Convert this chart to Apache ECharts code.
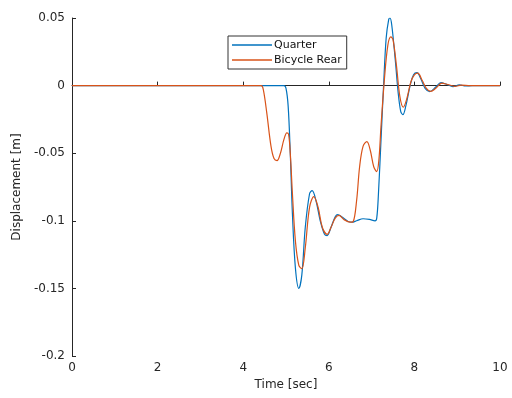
<!DOCTYPE html>
<html>
<head>
<meta charset="utf-8">
<script src="https://cdn.jsdelivr.net/npm/echarts@6/dist/echarts.min.js"></script>
<style>html,body{margin:0;padding:0;background:#fff}#c{width:512px;height:398px}</style>
</head>
<body>
<div id="c"></div>
<script>
var quarterT = [0,4.95,5.0,5.05,5.1,5.15,5.22,5.3,5.37,5.45,5.55,5.61,5.7,5.8,5.9,5.96,6.05,6.15,6.21,6.3,6.45,6.54,6.65,6.8,6.95,7.08,7.12,7.16,7.22,7.28,7.34,7.4,7.43,7.47,7.55,7.62,7.68,7.73,7.8,7.9,7.98,8.06,8.15,8.25,8.36,8.5,8.62,8.75,8.9,9.05,9.2,9.35,10];
var quarterV = [0,0,-0.002,-0.015,-0.05,-0.095,-0.135,-0.150,-0.14,-0.105,-0.08,-0.0777,-0.085,-0.1,-0.11,-0.111,-0.105,-0.097,-0.0954,-0.097,-0.1005,-0.101,-0.1,-0.0985,-0.099,-0.1,-0.098,-0.08,-0.04,0,0.035,0.049,0.050,0.045,0.02,-0.005,-0.019,-0.0215,-0.015,0,0.008,0.0096,0.005,-0.002,-0.0044,-0.001,0.0022,0.001,-0.0008,0.0005,-0.0003,0,0];
var rearT = [0,4.42,4.47,4.55,4.65,4.72,4.79,4.87,4.95,5.02,5.06,5.1,5.15,5.22,5.3,5.37,5.45,5.55,5.65,5.75,5.85,5.96,6.05,6.15,6.24,6.35,6.5,6.57,6.65,6.72,6.8,6.89,6.97,7.05,7.12,7.17,7.22,7.3,7.38,7.45,7.5,7.58,7.66,7.74,7.82,7.92,8.0,8.08,8.18,8.28,8.38,8.5,8.64,8.78,8.95,9.1,9.3,10];
var rearV = [0,0,-0.003,-0.02,-0.045,-0.054,-0.0555,-0.05,-0.04,-0.035,-0.036,-0.05,-0.08,-0.115,-0.133,-0.1354,-0.12,-0.09,-0.0821,-0.09,-0.105,-0.110,-0.105,-0.098,-0.096,-0.099,-0.101,-0.1006,-0.085,-0.06,-0.045,-0.0414,-0.048,-0.06,-0.0636,-0.055,-0.03,0.005,0.03,0.036,0.034,0.015,-0.008,-0.016,-0.01,0.003,0.008,0.0092,0.004,-0.002,-0.0042,-0.002,0.0018,0.0008,-0.0005,0.0003,0,0];
var seriesNames = ['Quarter','Bicycle Rear'];
var xTicks = [0,2,4,6,8,10];
var yTicks = [-0.2,-0.15,-0.1,-0.05,0,0.05];

function zip(a,b){var r=[];for(var i=0;i<a.length;i++)r.push([a[i],b[i]]);return r;}
var axisColor = '#262626';
var chart = echarts.init(document.getElementById('c'), null, {renderer:'canvas'});
chart.setOption({
  animation:false,
  grid:{left:72,right:12,top:18,bottom:42},
  legend:{
    orient:'vertical', left:228, top:36,
    data:seriesNames,
    icon:'rect',
    itemWidth:40, itemHeight:1.3, itemGap:3,
    padding:[3,5,3,4],
    borderColor:'#333', borderWidth:1, backgroundColor:'#fff', borderRadius:0,
    textStyle:{fontFamily:'DejaVu Sans',fontSize:11,color:'#111',padding:[0,0,0,-3],lineHeight:12}
  },
  xAxis:{
    type:'value', min:0, max:10, interval:2,
    name:'Time [sec]', nameLocation:'middle', nameGap:20,
    nameTextStyle:{fontFamily:'DejaVu Sans',fontSize:12,color:axisColor},
    axisLine:{lineStyle:{color:axisColor,width:1}},
    axisTick:{inside:true,length:4,lineStyle:{color:axisColor}},
    axisLabel:{fontFamily:'DejaVu Sans',fontSize:12,color:axisColor,margin:6},
    splitLine:{show:false}
  },
  yAxis:{
    type:'value', min:-0.2, max:0.05, interval:0.05,
    name:'Displacement [m]', nameLocation:'middle', nameGap:43, nameRotate:90,
    nameTextStyle:{fontFamily:'DejaVu Sans',fontSize:12,color:axisColor},
    axisLine:{show:true,lineStyle:{color:axisColor,width:1}},
    axisTick:{show:true,inside:true,length:4,lineStyle:{color:axisColor}},
    axisLabel:{fontFamily:'DejaVu Sans',fontSize:12,color:axisColor,margin:7,
      formatter:function(v){return String(Math.round(v*100)/100);}},
    splitLine:{show:false}
  },
  series:[
    {name:seriesNames[0],type:'line',data:zip(quarterT,quarterV),showSymbol:false,symbol:'none',smooth:0.35,
     lineStyle:{color:'#0072BD',width:1.2},itemStyle:{color:'#0072BD'}},
    {name:seriesNames[1],type:'line',data:zip(rearT,rearV),showSymbol:false,symbol:'none',smooth:0.35,
     lineStyle:{color:'#D95319',width:1.2},itemStyle:{color:'#D95319'}}
  ]
});
</script>
</body>
</html>
